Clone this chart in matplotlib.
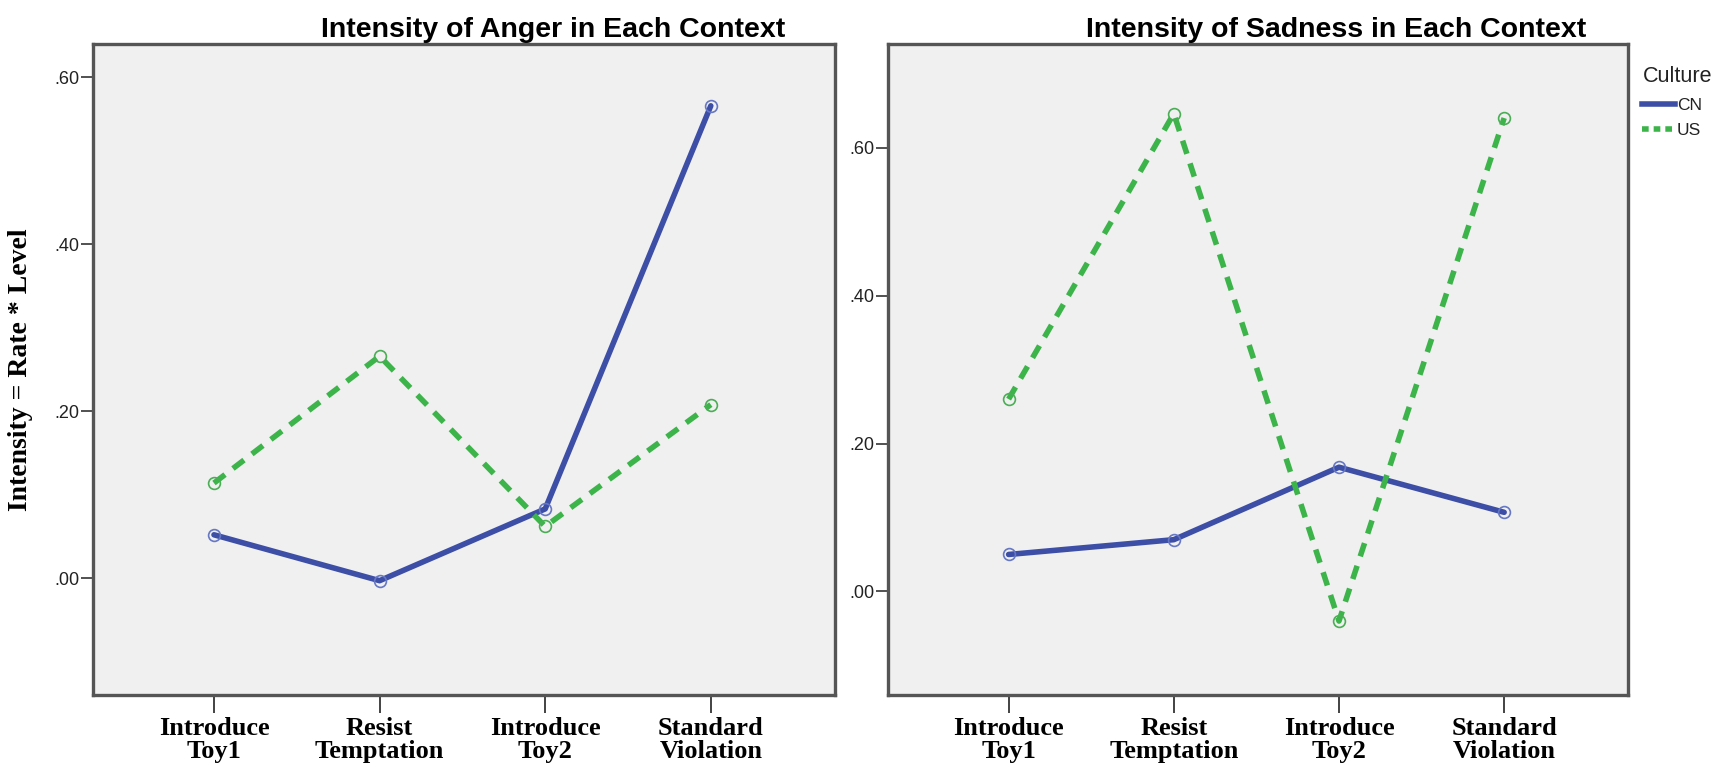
import numpy as np
import matplotlib
matplotlib.use("Agg")
import matplotlib.pyplot as plt
from matplotlib.ticker import FuncFormatter
from matplotlib.lines import Line2D

# contexts on the x axis
contexts = ["Introduce\nToy1", "Resist\nTemptation", "Introduce\nToy2", "Standard\nViolation"]

# intensity of anger, per culture
anger_cn = [0.052, -0.003, 0.083, 0.566]
anger_us = [0.114, 0.266, 0.062, 0.208]

# intensity of sadness, per culture
sad_cn = [0.050, 0.070, 0.168, 0.107]
sad_us = [0.260, 0.646, -0.040, 0.640]

titles = ["Intensity of Anger in Each Context", "Intensity of Sadness in Each Context"]
ylims = [(-0.14, 0.64), (-0.14, 0.74)]
title_x = [0.62, 0.605]

CN_COLOR = "#3d4ea6"
CN_MARK = "#6677c4"
US_COLOR = "#3cb44a"
US_MARK = "#4aae55"
FRAME = "#555555"


def dot_fmt(v, pos):
    # SPSS style: .60 instead of 0.60
    s = f"{abs(v):.2f}".lstrip("0")
    return ("-" if v < -1e-9 else "") + s


def draw_panel(ax, cn, us, title, ylim, tx):
    x = np.arange(len(contexts))
    ax.set_facecolor("#f0f0f0")
    ax.plot(x, cn, color=CN_COLOR, lw=4.0, solid_capstyle="round", zorder=3)
    ax.plot(x, us, color=US_COLOR, lw=4.0, dashes=(2.5, 1.8), dash_capstyle="butt", zorder=3)
    ax.plot(x, cn, ls="none", marker="o", ms=8.5, mfc="none", mec=CN_MARK, mew=1.2, zorder=4)
    ax.plot(x, us, ls="none", marker="o", ms=8.5, mfc="none", mec=US_MARK, mew=1.2, zorder=4)

    ax.set_xlim(-0.73, 3.75)
    ax.set_ylim(*ylim)
    ax.set_xticks(x)
    ax.set_xticklabels(contexts, family="Liberation Serif", fontweight="bold",
                       fontsize=19, linespacing=1.0)
    ax.set_yticks([0, 0.2, 0.4, 0.6])
    ax.yaxis.set_major_formatter(FuncFormatter(dot_fmt))
    ax.tick_params(axis="y", direction="out", length=9, width=1.2, color="#333333",
                   labelsize=13, labelcolor="#222222", pad=1)
    ax.tick_params(axis="x", direction="out", length=13, width=1.2, color="#222222", pad=3)
    for lab in ax.get_yticklabels():
        lab.set_family("Liberation Sans")
    for sp in ax.spines.values():
        sp.set_color(FRAME)
        sp.set_linewidth(2.4)
    ax.text(tx, 1.011, title, transform=ax.transAxes, ha="center", va="baseline",
            fontsize=20.5, fontweight="bold", family="Liberation Sans")


fig = plt.figure(figsize=(17.27, 7.77), dpi=100)
ax1 = fig.add_axes([0.0539, 0.1055, 0.4296, 0.8378])
ax2 = fig.add_axes([0.5142, 0.1055, 0.4285, 0.8378])

draw_panel(ax1, anger_cn, anger_us, titles[0], ylims[0], title_x[0])
draw_panel(ax2, sad_cn, sad_us, titles[1], ylims[1], title_x[1])

ax1.set_ylabel("Intensity = Rate * Level", family="Liberation Serif", fontweight="bold",
               fontsize=20)
ax1.yaxis.set_label_coords(-0.081, 0.5)

handles = [
    Line2D([], [], color=CN_COLOR, lw=4.0),
    Line2D([], [], color=US_COLOR, lw=4.0, dashes=(1.2, 0.9)),
]
leg = fig.legend(handles, ["CN", "US"], title="Culture", loc="upper left",
                 bbox_to_anchor=(0.951, 0.915), frameon=False,
                 title_fontsize=15.5, handlelength=1.9, handletextpad=0.1,
                 labelspacing=0.6, borderaxespad=0, borderpad=0,
                 prop={"family": "Liberation Sans", "size": 12.5})
leg._legend_box.align = "left"
leg.get_title().set_family("Liberation Sans")
leg.get_title().set_color("#222222")
for t in leg.get_texts():
    t.set_color("#222222")

fig.savefig("out.png", dpi=100, facecolor="white")
